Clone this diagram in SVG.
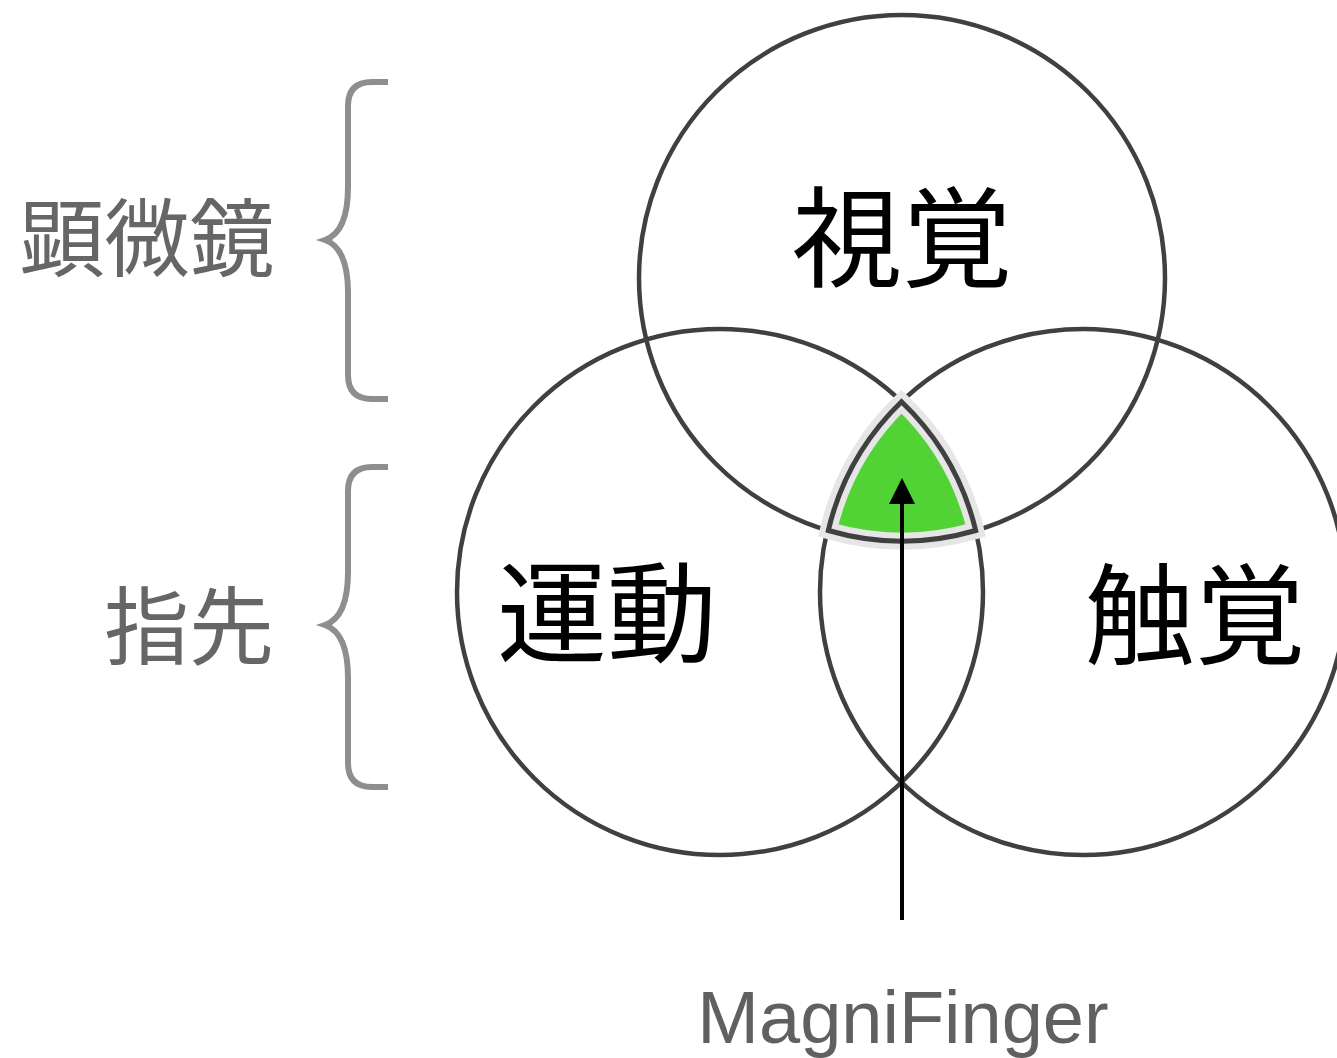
<svg xmlns="http://www.w3.org/2000/svg" width="1337" height="1058" viewBox="0 0 1337 1058">
<defs>
<style>
.circ{fill:none;stroke:#404040;stroke-width:4.5}
.brace{fill:none;stroke:#8e8e8e;stroke-width:6}
.big{font-family:"Noto Sans CJK JP","Noto Sans CJK SC",sans-serif;font-size:110px;fill:#000;text-anchor:middle}
.side{font-family:"Noto Sans CJK JP","Noto Sans CJK SC",sans-serif;font-size:85px;fill:#666;text-anchor:middle}
.eng{font-family:"Liberation Sans",Arial,sans-serif;font-size:74px;fill:#606060;text-anchor:middle}
</style>
<marker id="ah" viewBox="0 0 26 26" refX="0" refY="13" markerWidth="26" markerHeight="26" markerUnits="userSpaceOnUse" orient="auto">
<path d="M0,0 L26,13 L0,26 Z" fill="#000"/>
</marker>
</defs>
<rect width="1337" height="1058" fill="#fff"/>
<g id="circle-vision"><circle class="circ" cx="902" cy="278" r="263"/></g>
<g id="circle-motion"><circle class="circ" cx="720" cy="592" r="263"/></g>
<g id="circle-touch"><circle class="circ" cx="1083" cy="592" r="263"/></g>
<g id="magnifinger-region">
<path d="M901.5,401.7 A263,263 0 0 1 975.7,530.5 A263,263 0 0 1 828.3,530.5 A263,263 0 0 1 901.5,401.7 Z" fill="#52d335" stroke="#e6e6e6" stroke-width="17" stroke-linejoin="miter"/>
<path d="M901.5,401.7 A263,263 0 0 1 975.7,530.5 A263,263 0 0 1 828.3,530.5 A263,263 0 0 1 901.5,401.7 Z" fill="none" stroke="#404040" stroke-width="5"/>
</g>
<g id="label-vision"><text class="big" x="902" y="279">視覚</text></g>
<g id="label-motion"><text class="big" x="607" y="654">運動</text></g>
<g id="label-touch"><text class="big" x="1195" y="656">触覚</text></g>
<g id="label-microscope"><text class="side" x="147" y="270">顕微鏡</text></g>
<g id="label-fingertip"><text class="side" x="189" y="658">指先</text></g>
<g id="label-magnifinger"><text class="eng" x="903" y="1043">MagniFinger</text></g>
<g id="connectors">
<path class="brace" d="M388,82 H372 Q348,82 348,106 V187 Q348,232 325,240 Q348,248 348,293 V375 Q348,399 372,399 H388"/>
<path class="brace" d="M388,467 H372 Q348,467 348,491 V572 Q348,617 325,625 Q348,633 348,678 V763 Q348,787 372,787 H388"/>
<line x1="902" y1="920" x2="902" y2="504" stroke="#000" stroke-width="4" marker-end="url(#ah)"/>
</g>
</svg>
